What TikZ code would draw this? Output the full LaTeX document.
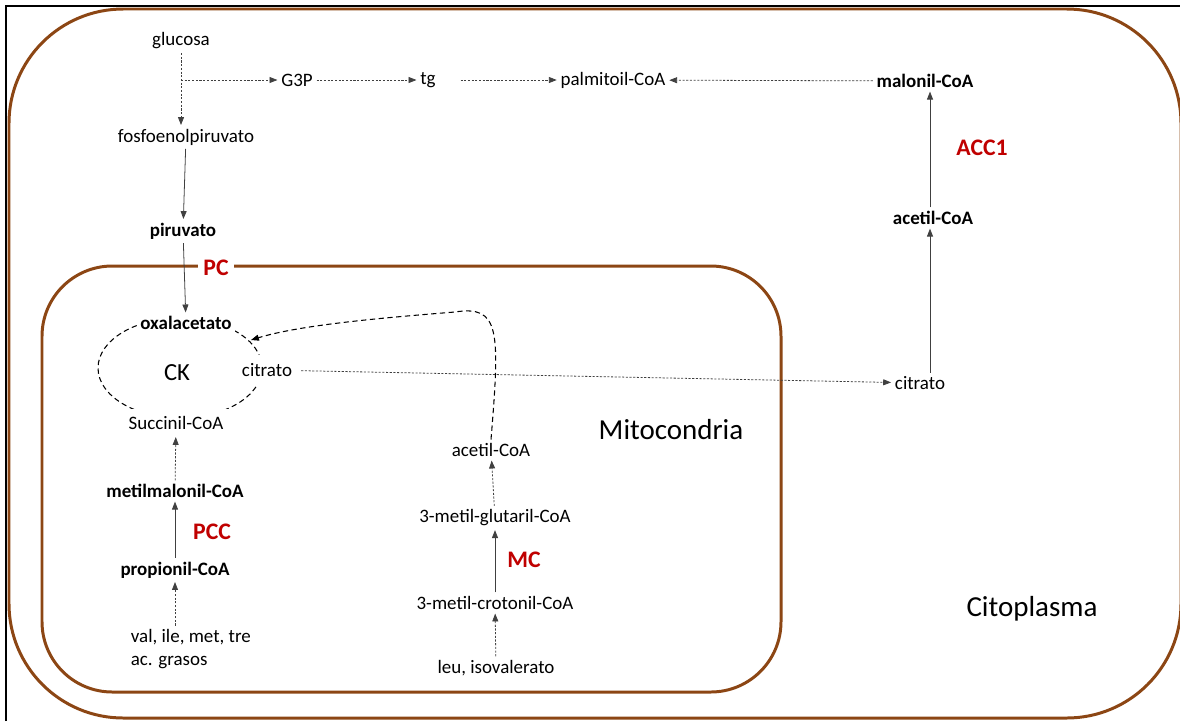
\documentclass[tikz,border=0pt]{standalone}
\usepackage{fontspec}
\setmainfont{Carlito}
\usetikzlibrary{arrows.meta,positioning}
\definecolor{membrana}{RGB}{140,70,20}
\definecolor{enzima}{RGB}{192,0,0}

\tikzset{
  met/.style={font=\fontsize{10.8}{13}\selectfont, inner sep=2pt},
  metb/.style={met, font=\fontsize{10.8}{13}\selectfont\bfseries},
  enz/.style={font=\fontsize{13.5}{16}\selectfont\bfseries, text=enzima, fill=white, inner sep=3pt},
  comp/.style={font=\fontsize{16.5}{20}\selectfont},
  conv/.style={-{Triangle[length=4.5pt,width=3.4pt]}, line width=0.45pt, draw=black!75},
  via/.style={conv, dash pattern=on 1.2pt off 0.9pt},
  ciclo/.style={dash pattern=on 3pt off 2pt, line width=0.6pt},
  memb/.style={draw=membrana, line width=1.7pt}
}

\begin{document}
\begin{tikzpicture}[x=0.02cm, y=-0.02cm]
  \useasboundingbox (0,0) rectangle (1180,721);
  \draw[line width=1pt] (6,721) -- (6,6) -- (1180,6);
  \draw[memb, rounded corners=65pt] (9,9) rectangle (1181,718);
  \draw[memb, rounded corners=40pt] (42,266) rectangle (781,692);
  \draw[ciclo] (180,368) ellipse [x radius=1.64cm, y radius=1cm];

  \node[met]                 (gluc)  at (181,41)  {glucosa};
  \node[met]                 (fosfo) at (186,137) {fosfoenolpiruvato};
  \node[met]                 (g3p)   at (297,80)  {G3P};
  \node[met]                 (tg)    at (428,80)  {tg};
  \node[met]                 (palm)  at (613,80)  {palmitoil-CoA};
  \node[metb]                (malo)  at (925,81)  {malonil-CoA};
  \node[enz]                 (acc)   at (982,148) {ACC1};
  \node[metb]                (acet)  at (933,218) {acetil-CoA};
  \node[met]                 (citc)  at (920,383) {citrato};
  \node[metb]                (piru)  at (183,231) {piruvato};
  \node[enz]                 (pc)    at (216,268) {PC};
  \node[metb, fill=white]    (oxa)   at (186,323) {oxalacetato};
  \node[font=\fontsize{14}{16}\selectfont] (ck) at (177,373) {CK};
  \node[met, fill=white, inner sep=5pt] (citm) at (267,370) {citrato};
  \node[met, fill=white, inner sep=4pt] (succ) at (176,423) {Succinil-CoA};
  \node[metb]                (mmal)  at (175,491) {metilmalonil-CoA};
  \node[enz]                 (pcc)   at (212,532) {PCC};
  \node[metb]                (prop)  at (175,570) {propionil-CoA};
  \node[met, align=left, anchor=west] (aa) at (127,649) {val, ile, met, tre\\ac. grasos};
  \node[comp]                (mito)  at (671,430) {Mitocondria};
  \node[met]                 (acetm) at (491,450) {acetil-CoA};
  \node[met]                 (glut)  at (495,518) {3-metil-glutaril-CoA};
  \node[enz]                 (mc)    at (524,560) {MC};
  \node[met]                 (crot)  at (495,603) {3-metil-crotonil-CoA};
  \node[met]                 (leu)   at (496,668) {leu, isovalerato};
  \node[comp]                (cito)  at (1032,609) {Citoplasma};
  \coordinate (oxain) at (251,340);

  \draw[via] (gluc.south) -- (gluc.south |- fosfo.north);
  \draw[via] (gluc.south |- g3p) -- (g3p);
  \draw[via] (g3p) -- (tg);
  \draw[via, shorten <=12pt] (tg) -- (palm);
  \draw[via] (malo) -- (palm);
  \draw[conv] (acet.north -| 930,0) -- (malo.south -| 930,0);
  \draw[conv] (citc.north -| 930,0) -- (acet.south -| 930,0);
  \draw[conv] (fosfo) -- (piru);
  \draw[conv] (piru) -- (oxa);
  \draw[via] (citm) -- (citc);
  \draw[ciclo, -{Triangle[length=4.5pt,width=3.4pt]}] (acetm.north)
    .. controls (500,330) and (500,305) .. (455,312)
    .. controls (380,318) and (300,325) .. (oxain);
  \draw[via] (mmal) -- (succ);
  \draw[conv] (prop) -- (mmal);
  \draw[via] (prop.south |- aa.north) -- (prop.south);
  \draw[via] (leu) -- (crot);
  \draw[conv] (crot) -- (glut);
  \draw[via] (glut) -- (acetm);
\end{tikzpicture}
\end{document}
